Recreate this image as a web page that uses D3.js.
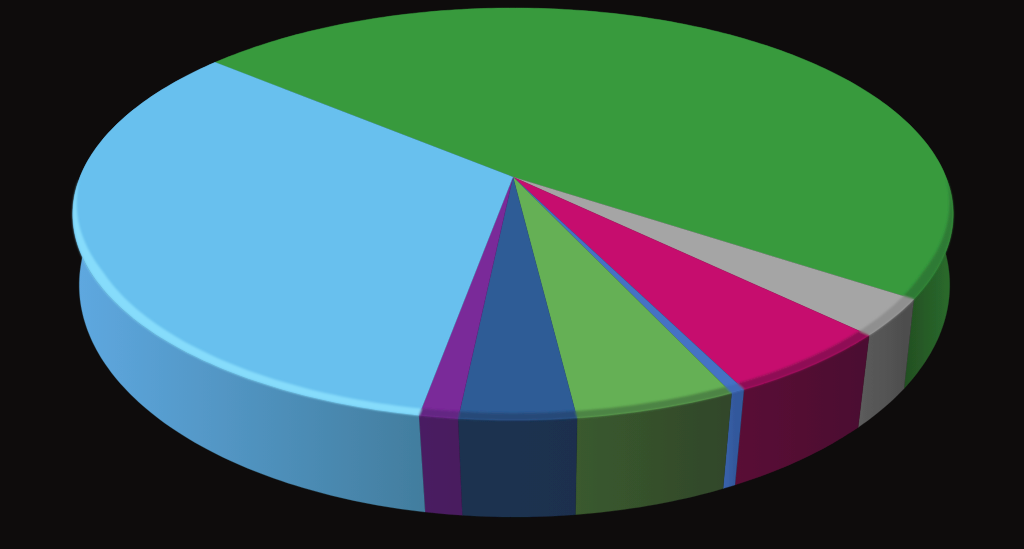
<!DOCTYPE html>
<html><head><meta charset="utf-8">
<script src="https://cdn.jsdelivr.net/npm/d3@7/dist/d3.min.js"></script>
<style>html,body{margin:0;padding:0;background:#0e0c0c;overflow:hidden}svg{display:block}</style>
</head><body><svg id="c" width="1024" height="549"></svg>
<script>
const sliceNames = ["A","B","C","D","E","F","G","H"];
const values = [48.2, 2.9, 5.4, 0.44, 5.0, 3.6, 1.2, 33.2];
const topColors = ["#379a3e","#a5a5a5","#c6106e","#4472c4","#65b055","#2e5c96","#7a2a99","#67c0ee"];
const sideStart = ["#2a6a2c","#5c5c5c","#5a1036","#3a63ad","#3a5a2e","#1c3350","#4a1f62","#5ea8e0"];
const sideEnd   = ["#234f22","#4e4e4e","#4c0f30","#33589c","#31472a","#1b2f4e","#481f5e","#427d9e"];
const bevelColors = ["#2f7a34","#8f8f8f","#8e1054","#3f6ab8","#4d8444","#264a78","#632583","#86dcfb"];

const topPlane = {cx:513, a:433, b:167.6, c:177, d:-0.18};
const botPlane = {cx:514.5, a:431, b:192, c:252.6, d:-0.14};
const project = (P, t, r=1) => {
  const x = r*Math.sin(t), y = -r*Math.cos(t), w = 1 + P.d*y;
  return [P.cx + P.a*x/w, (P.b*y + P.c)/w];
};
const line = d3.line();
const sampleAngles = (a0, a1) => d3.range(0, 1.0001, 1/Math.max(2, Math.ceil((a1-a0)*60))).map(k => a0 + (a1-a0)*k);

const start = 309.9*Math.PI/180;
const arcs = d3.pie().sort(null).value(d => d).startAngle(start).endAngle(start + 2*Math.PI)(values);

// lip depth along the rim: nothing at the silhouette, full depth towards the viewer
const lipDepth = d3.scaleLinear().domain([0, 0.45]).range([0, 0.024]).clamp(true);

const svg = d3.select("#c");
const defs = svg.append("defs");
defs.append("filter").attr("id","soft").attr("filterUnits","userSpaceOnUse").attr("x",0).attr("y",0).attr("width",1024).attr("height",549)
  .append("feGaussianBlur").attr("stdDeviation",1.1);
defs.append("filter").attr("id","fine").attr("filterUnits","userSpaceOnUse").attr("x",0).attr("y",0).attr("width",1024).attr("height",549)
  .append("feGaussianBlur").attr("stdDeviation",0.6);

arcs.forEach((d,i) => {
  const pA = project(botPlane, d.startAngle), pB = project(botPlane, d.endAngle);
  const x1 = i === 0 ? 950 : (i === 7 ? 76 : pB[0]), x2 = i === 0 ? 905 : (i === 7 ? 424 : pA[0]);
  const g = defs.append("linearGradient").attr("id","side"+i).attr("gradientUnits","userSpaceOnUse")
    .attr("x1",x1).attr("x2",x2).attr("y1",0).attr("y2",0);
  g.append("stop").attr("offset",0).attr("stop-color",sideStart[i]);
  g.append("stop").attr("offset",1).attr("stop-color",sideEnd[i]);
});

const root = svg.append("g").attr("filter","url(#fine)");

root.selectAll("path.side").data(arcs).join("path").attr("class","side")
  .attr("fill",(d,i)=>`url(#side${i})`)
  .attr("stroke",(d,i)=>sideEnd[i]).attr("stroke-width",0.3)
  .attr("d",d=>{
    const ts = sampleAngles(d.startAngle,d.endAngle);
    return line(ts.map(t=>project(topPlane,t)).concat(ts.slice().reverse().map(t=>project(botPlane,t))))+"Z";
  });

root.selectAll("path.top").data(arcs).join("path").attr("class","top")
  .attr("fill",(d,i)=>topColors[i])
  .attr("stroke",(d,i)=>topColors[i]).attr("stroke-width",0.3)
  .attr("d",d=>{
    const ts = sampleAngles(d.startAngle,d.endAngle);
    return line([project(topPlane,0,0)].concat(ts.map(t=>project(topPlane,t))))+"Z";
  });

root.append("g").attr("filter","url(#soft)").selectAll("path").data(arcs).join("path")
  .attr("fill",(d,i)=>bevelColors[i])
  .attr("d",d=>{
    const ts = sampleAngles(d.startAngle,d.endAngle).filter(t => -Math.cos(t) > 0);
    if (ts.length < 2) return null;
    const inner = ts.slice().reverse().map(t => project(topPlane, t, 1 - lipDepth(-Math.cos(t))));
    return line(ts.map(t=>project(topPlane,t)).concat(inner))+"Z";
  });
</script></body></html>
